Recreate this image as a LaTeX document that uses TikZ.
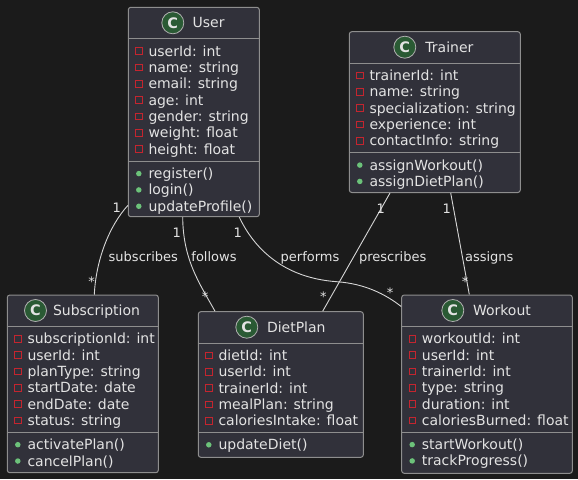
\documentclass[tikz,border=0pt]{standalone}
\usepackage{fontspec}
\setmainfont{DejaVu Sans}
\usetikzlibrary{calc}
\definecolor{bgdark}{HTML}{1B1B1B}
\definecolor{boxfill}{HTML}{31313A}
\definecolor{boxline}{HTML}{8E8E8E}
\definecolor{txtlight}{HTML}{E3E3E3}
\definecolor{privred}{HTML}{C4252F}
\definecolor{pubgreen}{HTML}{6CC27A}
\definecolor{iconfill}{HTML}{2A5A34}
\definecolor{iconring}{HTML}{B0B0B0}
\definecolor{edgeline}{HTML}{D6D6D6}

\begin{document}
\begin{tikzpicture}[x=1pt, y=-1pt,
    classbox/.style={draw=boxline, fill=boxfill, line width=1pt, rounded corners=2.5pt, inner sep=0},
    sepline/.style={draw=boxline, line width=1pt},
    classicon/.style={circle, draw=iconring, fill=iconfill, line width=0.8pt, minimum size=22, inner sep=0,
        text=txtlight, font=\fontsize{14.5}{16}\selectfont\bfseries},
    classname/.style={anchor=west, inner sep=0, text height=13, text depth=3, text=txtlight,
        font=\fontsize{14}{16}\selectfont},
    member/.style={classname},
    privmark/.style={draw=privred, line width=0.9pt, minimum size=6.5, inner sep=0},
    pubmark/.style={circle, fill=pubgreen, minimum size=5.5, inner sep=0},
    edgelbl/.style={inner sep=0, text height=9, text depth=0, text=txtlight, font=\fontsize{13}{15}\selectfont},
    assoc/.style={draw=edgeline, line width=0.9pt}
]
    \fill[bgdark] (0,0) rectangle (578,479);
    \useasboundingbox (0,0) rectangle (578,479);

    % User
    \node[classbox, minimum width=131, minimum height=209.4] (user) at (193.8,112) {};
    \node[classicon] (user-c) at ($(user.north west)+(45,16)$) {C};
    \node[classname] (user-t) at ($(user.north west)+(64.7,16)$) {User};
    \draw[sepline] ($(user.north west)+(0,32)$) -- ($(user.north east)+(0,32)$);
    \foreach \a [count=\i from 0] in {userId: int, name: string, email: string, age: int, gender: string, weight: float, height: float} {
        \node[privmark] (user-p\i) at ($(user.north west)+(11,{44.3+16.33*\i})$) {};
        \node[member] (user-a\i) at ($(user.north west)+(20.5,{44.3+16.33*\i})$) {\a};
    }
    \draw[sepline] ($(user.north west)+(0,154.3)$) -- ($(user.north east)+(0,154.3)$);
    \foreach \m [count=\i from 0] in {register(), login(), updateProfile()} {
        \node[pubmark] (user-q\i) at ($(user.north west)+(11,{166.8+16.33*\i})$) {};
        \node[member] (user-m\i) at ($(user.north west)+(20.5,{166.8+16.33*\i})$) {\m};
    }

    % Trainer
    \node[classbox, minimum width=171, minimum height=160.8] (trainer) at (434.8,112.1) {};
    \node[classicon] (trainer-c) at ($(trainer.north west)+(56,16)$) {C};
    \node[classname] (trainer-t) at ($(trainer.north west)+(76.4,16)$) {Trainer};
    \draw[sepline] ($(trainer.north west)+(0,32)$) -- ($(trainer.north east)+(0,32)$);
    \foreach \a [count=\i from 0] in {trainerId: int, name: string, specialization: string, experience: int, contactInfo: string} {
        \node[privmark] (trainer-p\i) at ($(trainer.north west)+(11,{44.3+16.33*\i})$) {};
        \node[member] (trainer-a\i) at ($(trainer.north west)+(20.5,{44.3+16.33*\i})$) {\a};
    }
    \draw[sepline] ($(trainer.north west)+(0,121.4)$) -- ($(trainer.north east)+(0,121.4)$);
    \foreach \m [count=\i from 0] in {assignWorkout(), assignDietPlan()} {
        \node[pubmark] (trainer-q\i) at ($(trainer.north west)+(11,{133.9+16.33*\i})$) {};
        \node[member] (trainer-m\i) at ($(trainer.north west)+(20.5,{133.9+16.33*\i})$) {\m};
    }

    % Subscription
    \node[classbox, minimum width=151, minimum height=177.7] (subscr) at (82.8,383.85) {};
    \node[classicon] (subscr-c) at ($(subscr.north west)+(28.7,16)$) {C};
    \node[classname] (subscr-t) at ($(subscr.north west)+(46,16)$) {Subscription};
    \draw[sepline] ($(subscr.north west)+(0,32)$) -- ($(subscr.north east)+(0,32)$);
    \foreach \a [count=\i from 0] in {subscriptionId: int, userId: int, planType: string, startDate: date, endDate: date, status: string} {
        \node[privmark] (subscr-p\i) at ($(subscr.north west)+(11,{44.3+16.33*\i})$) {};
        \node[member] (subscr-a\i) at ($(subscr.north west)+(20.5,{44.3+16.33*\i})$) {\a};
    }
    \draw[sepline] ($(subscr.north west)+(0,137.7)$) -- ($(subscr.north east)+(0,137.7)$);
    \foreach \m [count=\i from 0] in {activatePlan(), cancelPlan()} {
        \node[pubmark] (subscr-q\i) at ($(subscr.north west)+(11,{150.2+16.33*\i})$) {};
        \node[member] (subscr-m\i) at ($(subscr.north west)+(20.5,{150.2+16.33*\i})$) {\m};
    }

    % DietPlan
    \node[classbox, minimum width=165, minimum height=145.6] (diet) at (280.8,384.5) {};
    \node[classicon] (diet-c) at ($(diet.north west)+(49,16)$) {C};
    \node[classname] (diet-t) at ($(diet.north west)+(69,16)$) {DietPlan};
    \draw[sepline] ($(diet.north west)+(0,32)$) -- ($(diet.north east)+(0,32)$);
    \foreach \a [count=\i from 0] in {dietId: int, userId: int, trainerId: int, mealPlan: string, caloriesIntake: float} {
        \node[privmark] (diet-p\i) at ($(diet.north west)+(11,{44.3+16.33*\i})$) {};
        \node[member] (diet-a\i) at ($(diet.north west)+(20.5,{44.3+16.33*\i})$) {\a};
    }
    \draw[sepline] ($(diet.north west)+(0,121.1)$) -- ($(diet.north east)+(0,121.1)$);
    \node[pubmark] (diet-q0) at ($(diet.north west)+(11,133.6)$) {};
    \node[member] (diet-m0) at ($(diet.north west)+(20.5,133.6)$) {updateDiet()};

    % Workout
    \node[classbox, minimum width=170.6, minimum height=178.3] (workout) at (487,384.15) {};
    \node[classicon] (workout-c) at ($(workout.north west)+(51.6,16)$) {C};
    \node[classname] (workout-t) at ($(workout.north west)+(71.6,16)$) {Workout};
    \draw[sepline] ($(workout.north west)+(0,32)$) -- ($(workout.north east)+(0,32)$);
    \foreach \a [count=\i from 0] in {workoutId: int, userId: int, trainerId: int, type: string, duration: int, caloriesBurned: float} {
        \node[privmark] (workout-p\i) at ($(workout.north west)+(11,{44.3+16.33*\i})$) {};
        \node[member] (workout-a\i) at ($(workout.north west)+(20.5,{44.3+16.33*\i})$) {\a};
    }
    \draw[sepline] ($(workout.north west)+(0,137.6)$) -- ($(workout.north east)+(0,137.6)$);
    \foreach \m [count=\i from 0] in {startWorkout(), trackProgress()} {
        \node[pubmark] (workout-q\i) at ($(workout.north west)+(11,{150.1+16.33*\i})$) {};
        \node[member] (workout-m\i) at ($(workout.north west)+(20.5,{150.1+16.33*\i})$) {\m};
    }

    % associations
    \draw[assoc] ($(user.south west)+(0,-11.7)$) .. controls +(-18.3,20) and +(1.7,-35) .. ($(subscr.north)+(11.5,0)$);
    \draw[assoc] ($(user.south)+(-11.1,0)$) .. controls +(0.3,43) and +(-15,-27) .. ($(diet.north)+(-65.8,0)$);
    \draw[assoc] ($(user.south)+(45.5,0)$) .. controls +(15.7,33) and +(-51.7,-3.7) .. (336.7,281.7)
        .. controls +(28,2) and +(-16,-12.5) .. ($(workout.north west)+(0,12)$);
    \draw[assoc] ($(trainer.south)+(-44.8,0)$) -- ($(diet.north)+(41.9,0)$);
    \draw[assoc] ($(trainer.south)+(15.9,0)$) -- ($(workout.north)+(-17.7,0)$);

    \node[edgelbl] (subs-1) at (116.7,208.3) {1};
    \node[edgelbl] (subs-l) at (143.3,256.7) {subscribes};
    \node[edgelbl] (subs-n) at (91.7,281.5) {*};
    \node[edgelbl] (foll-1) at (176.7,233.3) {1};
    \node[edgelbl] (foll-l) at (214,256.7) {follows};
    \node[edgelbl] (foll-n) at (205,297.2) {*};
    \node[edgelbl] (perf-1) at (237.7,233.3) {1};
    \node[edgelbl] (perf-l) at (310,256.7) {performs};
    \node[edgelbl] (perf-n) at (390,292.5) {*};
    \node[edgelbl] (pres-1) at (380.7,209.3) {1};
    \node[edgelbl] (pres-l) at (392.7,256.7) {prescribes};
    \node[edgelbl] (pres-n) at (323.3,296.5) {*};
    \node[edgelbl] (assi-1) at (446.7,209.3) {1};
    \node[edgelbl] (assi-l) at (489.3,256.7) {assigns};
    \node[edgelbl] (assi-n) at (465,281.5) {*};
\end{tikzpicture}
\end{document}
